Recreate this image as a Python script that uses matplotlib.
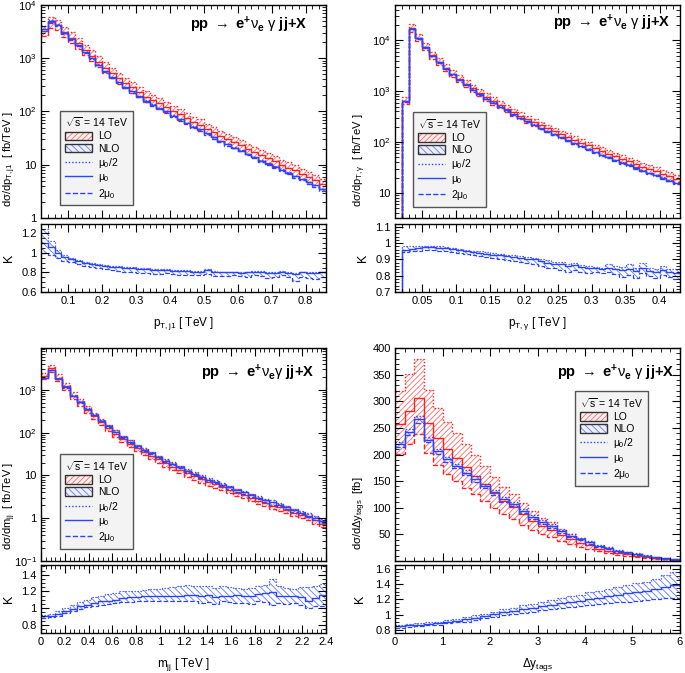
import numpy as np
import matplotlib.pyplot as plt
from matplotlib.patches import Patch
from matplotlib.lines import Line2D
from matplotlib.ticker import (MultipleLocator, FuncFormatter, LogLocator,
                               FormatStrFormatter, NullFormatter)

plt.rcParams['font.family'] = ['Liberation Sans', 'DejaVu Sans']
plt.rcParams['mathtext.fontset'] = 'custom'
plt.rcParams['mathtext.rm'] = 'Liberation Sans'
plt.rcParams['mathtext.it'] = 'Liberation Sans'
plt.rcParams['mathtext.bf'] = 'Liberation Sans:bold'
plt.rcParams['hatch.linewidth'] = 0.6

# ---- p_T,j1 panel (bins of 20 GeV) ----
ptj_edges = np.linspace(0.02, 0.86, 43)
ptj_nlo = [3600, 5000, 4200, 3000, 2300, 1750, 1300, 1000, 760, 580,
           450, 360, 290, 240, 195, 160, 135, 118, 100, 84,
           72, 61, 52, 46, 39, 33, 28, 24, 21, 18.5,
           16, 14, 12, 10.5, 9.2, 8.0, 7.0, 6.1, 5.4, 4.7,
           4.1, 3.5]
ptj_k = [1.10, 1.06, 1.00, 0.96, 0.94, 0.92, 0.90, 0.89, 0.88, 0.87,
         0.86, 0.86, 0.85, 0.85, 0.84, 0.84, 0.83, 0.83, 0.83, 0.82,
         0.82, 0.82, 0.81, 0.81, 0.83, 0.81, 0.80, 0.80, 0.80, 0.79,
         0.80, 0.81, 0.80, 0.79, 0.79, 0.80, 0.79, 0.78, 0.80, 0.79,
         0.79, 0.80]
ptj_khi = [1.25, 1.12, 1.03, 0.98, 0.95, 0.93, 0.91, 0.90, 0.89, 0.875,
           0.865, 0.865, 0.855, 0.855, 0.845, 0.845, 0.835, 0.835, 0.835, 0.825,
           0.825, 0.825, 0.815, 0.815, 0.84, 0.815, 0.81, 0.81, 0.81, 0.80,
           0.81, 0.82, 0.82, 0.80, 0.80, 0.82, 0.81, 0.79, 0.81, 0.80,
           0.81, 0.81]
ptj_klo = [1.00, 0.98, 0.95, 0.92, 0.91, 0.89, 0.87, 0.86, 0.85, 0.84,
           0.83, 0.82, 0.81, 0.80, 0.79, 0.79, 0.78, 0.78, 0.79, 0.78,
           0.77, 0.77, 0.77, 0.77, 0.78, 0.76, 0.76, 0.76, 0.77, 0.76,
           0.75, 0.77, 0.76, 0.74, 0.75, 0.77, 0.75, 0.71, 0.75, 0.74,
           0.73, 0.75]
ptj_lo_band = (0.80, 1.25)

# ---- p_T,gamma panel (bins of 10 GeV) ----
pta_edges = np.linspace(0.01, 0.43, 43)
pta_nlo = [0, 630, 17000, 11000, 7300, 5000, 3700, 2800, 2150, 1700,
           1350, 1080, 880, 720, 600, 500, 420, 355, 300, 255,
           220, 190, 163, 142, 124, 108, 95, 83, 73, 64,
           56, 50, 44, 39, 35, 31, 27.5, 24.5, 22, 19.5,
           17.5, 15.5]
pta_k = [0, 0.960, 0.965, 0.970, 0.975, 0.975, 0.972, 0.968, 0.962, 0.956,
         0.950, 0.945, 0.940, 0.935, 0.930, 0.925, 0.920, 0.915, 0.910, 0.905,
         0.900, 0.890, 0.880, 0.875, 0.870, 0.860, 0.865, 0.855, 0.850, 0.845,
         0.840, 0.848, 0.840, 0.835, 0.842, 0.828, 0.845, 0.830, 0.822, 0.835,
         0.820, 0.815]
pta_khi = [0, 0.980, 0.985, 0.985, 0.985, 0.985, 0.982, 0.978, 0.972, 0.966,
           0.960, 0.955, 0.950, 0.945, 0.940, 0.935, 0.930, 0.925, 0.920, 0.915,
           0.910, 0.905, 0.895, 0.885, 0.885, 0.875, 0.880, 0.865, 0.860, 0.855,
           0.850, 0.870, 0.860, 0.855, 0.870, 0.850, 0.880, 0.850, 0.840, 0.860,
           0.840, 0.840]
pta_klo = [0, 0.945, 0.950, 0.955, 0.958, 0.958, 0.955, 0.950, 0.945, 0.940,
           0.932, 0.926, 0.920, 0.914, 0.908, 0.902, 0.896, 0.890, 0.884, 0.876,
           0.870, 0.858, 0.845, 0.850, 0.835, 0.825, 0.835, 0.825, 0.815, 0.820,
           0.815, 0.820, 0.810, 0.790, 0.805, 0.785, 0.815, 0.800, 0.785, 0.805,
           0.790, 0.780]
pta_lo_band = (0.85, 1.18)

# ---- m_jj panel (bins of 60 GeV) ----
mjj_edges = np.linspace(0.0, 2.4, 41)
mjj_nlo = [1900, 2900, 1800, 1150, 720, 520, 360, 260, 190, 140,
           105, 80, 62, 49, 40, 33, 27, 22, 18.5, 15.5,
           13, 11, 9.3, 8.0, 7.0, 6.1, 5.3, 4.6, 4.0, 3.45,
           3.0, 2.65, 2.35, 2.05, 1.8, 1.55, 1.35, 1.15, 1.0, 0.85]
mjj_k = [0.90, 0.91, 0.93, 0.96, 0.99, 1.02, 1.04, 1.06, 1.08, 1.09,
         1.10, 1.12, 1.13, 1.13, 1.14, 1.14, 1.14, 1.15, 1.15, 1.15,
         1.16, 1.16, 1.15, 1.16, 1.13, 1.15, 1.15, 1.16, 1.14, 1.15,
         1.17, 1.18, 1.19, 1.15, 1.14, 1.15, 1.13, 1.09, 1.12, 1.16]
mjj_khi = [0.92, 0.93, 0.96, 1.00, 1.04, 1.07, 1.10, 1.13, 1.15, 1.17,
           1.18, 1.20, 1.21, 1.21, 1.22, 1.23, 1.23, 1.24, 1.25, 1.26,
           1.28, 1.27, 1.26, 1.26, 1.24, 1.27, 1.25, 1.24, 1.23, 1.24,
           1.27, 1.28, 1.35, 1.27, 1.24, 1.23, 1.25, 1.25, 1.27, 1.29]
mjj_klo = [0.88, 0.89, 0.91, 0.94, 0.97, 0.99, 1.01, 1.03, 1.04, 1.05,
           1.06, 1.07, 1.07, 1.08, 1.08, 1.08, 1.08, 1.09, 1.08, 1.09,
           1.08, 1.08, 1.06, 1.07, 1.05, 1.08, 1.07, 1.06, 1.06, 1.05,
           1.09, 1.07, 1.04, 1.06, 1.05, 1.06, 1.04, 1.00, 1.02, 1.03]
mjj_lo_band = (0.84, 1.20)

# ---- Delta y_tags panel (bins of 0.2) ----
dy_edges = np.linspace(0.0, 6.0, 31)
dy_nlo = [219, 243, 266, 228, 206, 191, 178, 166, 154, 141,
          129, 116, 107, 94, 82, 73, 66, 56, 47, 41,
          35, 28, 24, 19, 16, 13, 10, 7, 5, 3]
dy_k = [0.85, 0.86, 0.87, 0.88, 0.89, 0.91, 0.92, 0.94, 0.96, 0.98,
        1.01, 1.03, 1.05, 1.07, 1.09, 1.11, 1.13, 1.15, 1.16, 1.18,
        1.20, 1.22, 1.24, 1.26, 1.28, 1.29, 1.31, 1.33, 1.36, 1.38]
dy_khi = [0.87, 0.88, 0.89, 0.90, 0.91, 0.93, 0.94, 0.97, 0.99, 1.01,
          1.04, 1.07, 1.09, 1.12, 1.14, 1.16, 1.19, 1.21, 1.24, 1.26,
          1.29, 1.31, 1.34, 1.36, 1.39, 1.41, 1.43, 1.47, 1.51, 1.55]
dy_klo = [0.83, 0.84, 0.85, 0.86, 0.87, 0.89, 0.90, 0.91, 0.93, 0.95,
          0.97, 0.99, 1.01, 1.02, 1.04, 1.06, 1.07, 1.09, 1.10, 1.11,
          1.12, 1.14, 1.15, 1.16, 1.17, 1.18, 1.19, 1.20, 1.21, 1.22]
dy_lo_band = (0.78, 1.24)

RED = '#ff2020'
RED_H = '#ff6a6a'
BLUE = '#2a45ff'
BLUE_H = '#6478ff'
DOT = (0, (1, 1.4))


def draw(ax, axk, edges, nlo, k, klo, khi, lo_band):
    nlo = np.asarray(nlo, float)
    k = np.asarray(k, float)
    klo = np.asarray(klo, float)
    khi = np.asarray(khi, float)
    lo = np.divide(nlo, k, out=np.zeros_like(nlo), where=k > 0)
    lo_up, lo_dn = lo * lo_band[1], lo * lo_band[0]
    nlo_up, nlo_dn = lo * khi, lo * klo

    ax.stairs(lo_up, edges, baseline=lo_dn, fill=True, facecolor='none',
              edgecolor=RED_H, hatch='//////', lw=0)
    ax.stairs(nlo_up, edges, baseline=nlo_dn, fill=True, facecolor='none',
              edgecolor=BLUE_H, hatch='\\\\\\\\', lw=0)
    for vals, ls in [(lo_up, DOT), (lo, '-'), (lo_dn, '--')]:
        ax.stairs(vals, edges, baseline=None, color=RED, ls=ls, lw=1.0)
    for vals, ls in [(nlo_up, DOT), (nlo, '-'), (nlo_dn, '--')]:
        ax.stairs(vals, edges, baseline=None, color=BLUE, ls=ls, lw=1.0)

    axk.stairs(khi, edges, baseline=klo, fill=True, facecolor='none',
               edgecolor=BLUE_H, hatch='\\\\\\\\\\', lw=0)
    axk.stairs(khi, edges, baseline=None, color=BLUE, ls=DOT, lw=0.9)
    axk.stairs(klo, edges, baseline=None, color=BLUE, ls='--', lw=0.9)
    axk.stairs(k, edges, baseline=None, color=BLUE, ls='-', lw=1.0)


def log_fmt(v, pos):
    if np.isclose(v, 1):
        return '1'
    if np.isclose(v, 10):
        return '10'
    return r'$10^{%d}$' % int(round(np.log10(v)))


def style(ax):
    ax.tick_params(which='both', direction='in', top=True, right=True,
                   labelsize=8, pad=3)
    ax.tick_params(which='major', length=6)
    ax.tick_params(which='minor', length=3)
    for s in ax.spines.values():
        s.set_linewidth(1.0)


fig = plt.figure(figsize=(6.85, 6.73), dpi=100)
W = 285 / 685
cols = [41 / 685, 395 / 685]
rows_main = [0.6761, 0.1664]
rows_k = [0.5661, 0.0594]
HM, HK = 0.3165, 0.1015

TITLE = r'$\mathbf{pp}\ \rightarrow\ \mathbf{e^{+}}\nu_{\mathbf{e}}\ \gamma\ \mathbf{jj{+}X}$'
panels = [
    dict(edges=ptj_edges, nlo=ptj_nlo, k=ptj_k, klo=ptj_klo, khi=ptj_khi, band=ptj_lo_band,
         xlim=(0.02, 0.86), log=True, ylim=(1, 1e4), klim=(0.6, 1.3), kmaj=0.2, kmin=0.05,
         xmaj=0.1, xmin=0.02,
         ylabel=r'd$\sigma$/dp$_{\rm T,j1}$  [ fb/TeV ]', xlabel=r'p$_{\rm T,j1}$ [ TeV ]',
         title=TITLE, tpos=(0.933, 0.906), leg=('lower left', (0.056, 0.045)),
         ylx=-0.08, klx=-0.09),
    dict(edges=pta_edges, nlo=pta_nlo, k=pta_k, klo=pta_klo, khi=pta_khi, band=pta_lo_band,
         xlim=(0.01, 0.43), log=True, ylim=(3.2, 5e4), klim=(0.7, 1.12), kmaj=0.1, kmin=0.02,
         xmaj=0.05, xmin=0.01,
         ylabel=r'd$\sigma$/dp$_{\rm T,\gamma}$  [ fb/TeV ]', xlabel=r'p$_{\rm T,\gamma}$ [ TeV ]',
         title=TITLE, tpos=(0.965, 0.915), leg=('lower left', (0.053, 0.038)),
         ylx=-0.095, klx=-0.09),
    dict(edges=mjj_edges, nlo=mjj_nlo, k=mjj_k, klo=mjj_klo, khi=mjj_khi, band=mjj_lo_band,
         xlim=(0.0, 2.4), log=True, ylim=(0.1, 9500), klim=(0.7, 1.52), kmaj=0.2, kmin=0.05,
         xmaj=0.2, xmin=0.04,
         ylabel=r'd$\sigma$/dm$_{\rm jj}$  [ fb/TeV ]', xlabel=r'm$_{\rm jj}$ [ TeV ]',
         title=r'$\mathbf{pp}\ \rightarrow\ \mathbf{e^{+}}\nu_{\mathbf{e}}\gamma\ \mathbf{jj{+}X}$',
         tpos=(0.96, 0.883), leg=('lower left', (0.056, 0.042)), ylx=-0.08, klx=-0.09),
    dict(edges=dy_edges, nlo=dy_nlo, k=dy_k, klo=dy_klo, khi=dy_khi, band=dy_lo_band,
         xlim=(0.0, 6.0), log=False, ylim=(0, 400), klim=(0.76, 1.65), kmaj=0.2, kmin=0.05,
         xmaj=1.0, xmin=0.2,
         ylabel=r'd$\sigma$/d$\Delta$y$_{\rm tags}$  [fb]', xlabel=r'$\Delta$y$_{\rm tags}$',
         title=TITLE, tpos=(0.98, 0.883), leg=('upper right', (0.898, 0.812)),
         ylx=-0.095, klx=-0.10),
]

handles = [
    (Patch(facecolor='#fff0f0', edgecolor=RED_H, hatch='//////', lw=0),
     Patch(facecolor='none', edgecolor='#333333', lw=1.0)),
    (Patch(facecolor='#eef0ff', edgecolor=BLUE_H, hatch='\\\\\\\\\\', lw=0),
     Patch(facecolor='none', edgecolor='#333333', lw=1.0)),
    Line2D([], [], color=BLUE, ls=DOT, lw=1.0),
    Line2D([], [], color=BLUE, ls='-', lw=1.0),
    Line2D([], [], color=BLUE, ls='--', lw=1.0),
]
labels = ['LO', 'NLO', r'$\mu_0$/2', r'$\mu_0$', r'2$\mu_0$']

for i, p in enumerate(panels):
    x0 = cols[i % 2]
    r = i // 2
    ax = fig.add_axes([x0, rows_main[r], W, HM])
    axk = fig.add_axes([x0, rows_k[r], W, HK], sharex=ax)
    if p['log']:
        ax.set_yscale('log')
    draw(ax, axk, p['edges'], p['nlo'], p['k'], p['klo'], p['khi'], p['band'])

    ax.set_xlim(*p['xlim'])
    ax.set_ylim(*p['ylim'])
    axk.set_ylim(*p['klim'])
    ax.xaxis.set_major_locator(MultipleLocator(p['xmaj']))
    ax.xaxis.set_minor_locator(MultipleLocator(p['xmin']))
    if p['log']:
        ax.yaxis.set_major_locator(LogLocator(base=10, numticks=12))
        ax.yaxis.set_minor_locator(LogLocator(base=10, subs=np.arange(2, 10), numticks=12))
        ax.yaxis.set_major_formatter(FuncFormatter(log_fmt))
        ax.yaxis.set_minor_formatter(NullFormatter())
    else:
        ax.yaxis.set_major_locator(MultipleLocator(50))
        ax.yaxis.set_minor_locator(MultipleLocator(10))
        ax.yaxis.set_major_formatter(FuncFormatter(lambda v, pos: '' if v == 0 else '%d' % v))
    axk.yaxis.set_major_locator(MultipleLocator(p['kmaj']))
    axk.yaxis.set_minor_locator(MultipleLocator(p['kmin']))
    axk.yaxis.set_major_formatter(FormatStrFormatter('%g'))
    axk.xaxis.set_major_formatter(FormatStrFormatter('%g'))
    style(ax)
    style(axk)
    ax.tick_params(labelbottom=False)

    ax.set_ylabel(p['ylabel'], fontsize=8, loc='bottom')
    ax.yaxis.set_label_coords(p['ylx'], 0.05)
    axk.set_ylabel('K', fontsize=9)
    axk.yaxis.set_label_coords(p['klx'], 0.5)
    axk.set_xlabel(p['xlabel'], fontsize=8.5, va='top')
    axk.xaxis.set_label_coords(0.5, -0.33)

    ax.text(p['tpos'][0], p['tpos'][1], p['title'], transform=ax.transAxes,
            ha='right', va='center', fontsize=10.5)

    leg = ax.legend(handles, labels, title=r'$\sqrt{\rm s}$ = 14 TeV',
                    loc=p['leg'][0], bbox_to_anchor=p['leg'][1],
                    fontsize=7.5, title_fontsize=7.5, alignment='left',
                    fancybox=False, edgecolor='#555555', facecolor='#f3f3f3',
                    framealpha=1, handlelength=2.6, handleheight=0.9,
                    labelspacing=0.22, borderpad=0.45, handletextpad=0.6,
                    borderaxespad=0.3)
    leg.get_frame().set_linewidth(1.0)

fig.savefig('out.png', dpi=100)
